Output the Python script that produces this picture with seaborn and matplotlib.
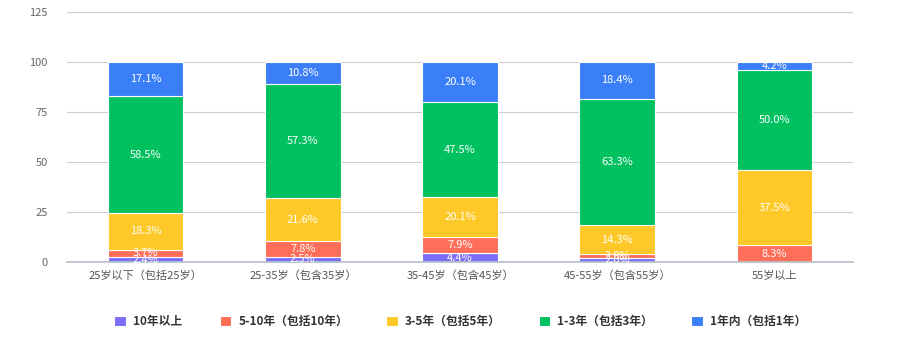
import matplotlib
matplotlib.use("Agg")
import matplotlib.pyplot as plt
import seaborn as sns
import pandas as pd
import numpy as np

categories = ["25岁以下（包括25岁）", "25-35岁（包含35岁）", "35-45岁（包含45岁）", "45-55岁（包含55岁）", "55岁以上"]
series_names = ["10年以上", "5-10年（包括10年）", "3-5年（包括5年）", "1-3年（包括3年）", "1年内（包括1年）"]
s_10plus = [2.4, 2.5, 4.4, 2.0, 0.0]
s_5_10 = [3.7, 7.8, 7.9, 2.0, 8.3]
s_3_5 = [18.3, 21.6, 20.1, 14.3, 37.5]
s_1_3 = [58.5, 57.3, 47.5, 63.3, 50.0]
s_1in = [17.1, 10.8, 20.1, 18.4, 4.2]
colors = ["#7b6ef6", "#ff6e58", "#fec928", "#00c060", "#3a7ff8"]

sns.set_theme(style="white")
plt.rcParams['font.family'] = ['Noto Sans CJK SC', 'DejaVu Sans']

fig = plt.figure(figsize=(9.08, 3.41), dpi=100)
ax = fig.add_axes([67/908, (341-262)/341, (853-67)/908, 250/341])

all_series = [s_10plus, s_5_10, s_3_5, s_1_3, s_1in]
bottom = np.zeros(len(categories))
for name, vals, col in zip(series_names, all_series, colors):
    df = pd.DataFrame({"cat": categories, "val": vals})
    sns.barplot(data=df, x="cat", y="val", bottom=bottom, color=col, width=0.48,
                saturation=1, edgecolor="white", linewidth=0.8, ax=ax, label=name)
    for i, v in enumerate(vals):
        if v > 0:
            ax.text(i, bottom[i] + v / 2, f"{v:.1f}%", ha="center", va="center",
                    color="white", fontsize=8)
    bottom = bottom + np.array(vals)

ax.set_ylim(0, 125)
ax.set_xlim(-0.5, len(categories) - 0.5)
ax.set_yticks([0, 25, 50, 75, 100, 125])
ax.yaxis.grid(True, color="#cccccc", linewidth=0.8)
ax.set_axisbelow(True)
for s in ["top", "right", "left"]:
    ax.spines[s].set_visible(False)
ax.spines["bottom"].set_color("#b8c0cc")
ax.set_xlabel("")
ax.set_ylabel("")
ax.tick_params(axis="y", length=0, labelsize=8, labelcolor="#666666", pad=14)
ax.tick_params(axis="x", length=0, labelsize=8, labelcolor="#555555", pad=6)
ax.set_xticks(np.arange(-0.5, len(categories) + 0.5, 1), minor=True)
ax.tick_params(axis="x", which="minor", length=5, color="#b8c0cc", width=0.8)

leg = ax.legend(loc="upper center", bbox_to_anchor=(0.5, -0.17), ncol=5, frameon=False,
                handlelength=1.0, handleheight=1.0, handletextpad=0.6, columnspacing=3.2,
                prop={"size": 8.5, "weight": "bold"})
for t in leg.get_texts():
    t.set_color("#333333")

fig.savefig("out.png", dpi=100)
